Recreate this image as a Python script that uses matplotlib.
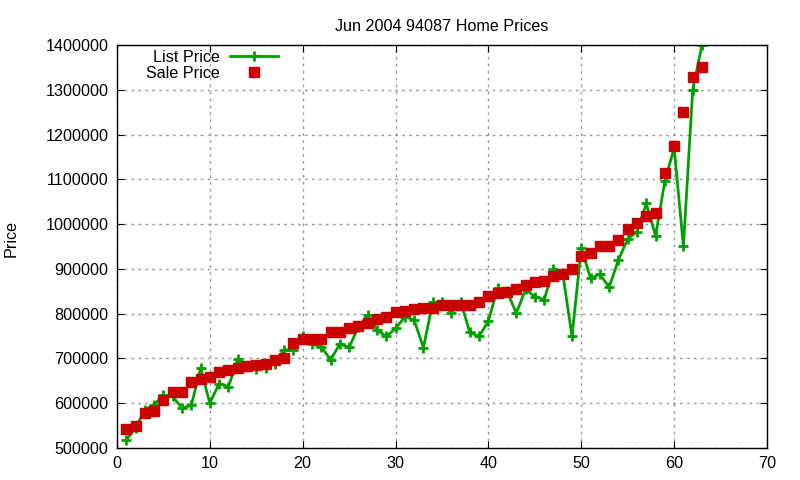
import matplotlib
matplotlib.use("Agg")
import matplotlib.pyplot as plt
from matplotlib.ticker import MultipleLocator, StrMethodFormatter

plt.rcParams["font.family"] = ["Liberation Sans", "DejaVu Sans"]

# house index (1..63), sorted by sale price
idx = list(range(1, 64))

list_price = [
    518000, 545000, 585000, 597000, 618000, 615000, 589000, 595000, 678000, 600000,
    644000, 637000, 698000, 684000, 676000, 679000, 688000, 719000, 719000, 750000,
    732000, 726000, 697000, 732000, 725000, 770000, 796000, 764000, 749000, 767000,
    793000, 786000, 724000, 825000, 827000, 801000, 827000, 758000, 749000, 784000,
    858000, 850000, 801000, 854000, 838000, 831000, 900000, 890000, 749000, 947000,
    879000, 888000, 859000, 920000, 967000, 983000, 1046000, 974000, 1096000, 1170000,
    950000, 1300000, 1400000,
]

sale_price = [
    543000, 548000, 579000, 583000, 608000, 624000, 624000, 648000, 655000, 659000,
    670000, 675000, 679000, 684000, 685000, 688000, 697000, 700000, 735000, 744000,
    743000, 743000, 760000, 760000, 768000, 773000, 780000, 787000, 793000, 804000,
    807000, 811000, 813000, 813000, 820000, 820000, 820000, 820000, 825000, 840000,
    845000, 849000, 854000, 865000, 871000, 874000, 885000, 889000, 900000, 929000,
    936000, 950000, 952000, 965000, 989000, 1003000, 1019000, 1025000, 1114000, 1175000,
    1251000, 1329000, 1351000,
]

FS = 11.6

fig = plt.figure(figsize=(8, 4.8), dpi=100)
ax = fig.add_axes([0.14625, 0.0667, 0.8125, 0.8396])

ax.plot(idx, list_price, color="#00a000", lw=2, marker="+", ms=7.5, mew=2,
        label="List Price")
ax.plot(idx, sale_price, ls="none", color="#cc0000", marker="s", ms=7,
        label="Sale Price")

ax.set_xlim(0, 70)
ax.set_ylim(500000, 1400000)
ax.xaxis.set_major_locator(MultipleLocator(10))
ax.yaxis.set_major_locator(MultipleLocator(100000))
ax.yaxis.set_major_formatter(StrMethodFormatter("{x:.0f}"))
ax.tick_params(direction="in", top=True, right=True, length=5, labelsize=FS, pad=6)
ax.grid(True, color="#999999", ls=(0, (2, 3)), lw=1)
for s in ax.spines.values():
    s.set_linewidth(1)

ax.set_title("Jun 2004 94087 Home Prices", fontsize=FS, pad=10)
ax.set_ylabel("Price", fontsize=FS)
ax.yaxis.set_label_coords(-0.152, 0.52)

ax.legend(loc="upper left", bbox_to_anchor=(0.025, 1.02), frameon=False,
          markerfirst=False, fontsize=FS, handlelength=3.0, handletextpad=0.6,
          labelspacing=0.05, borderpad=0.3)

fig.savefig("out.png", dpi=100)
